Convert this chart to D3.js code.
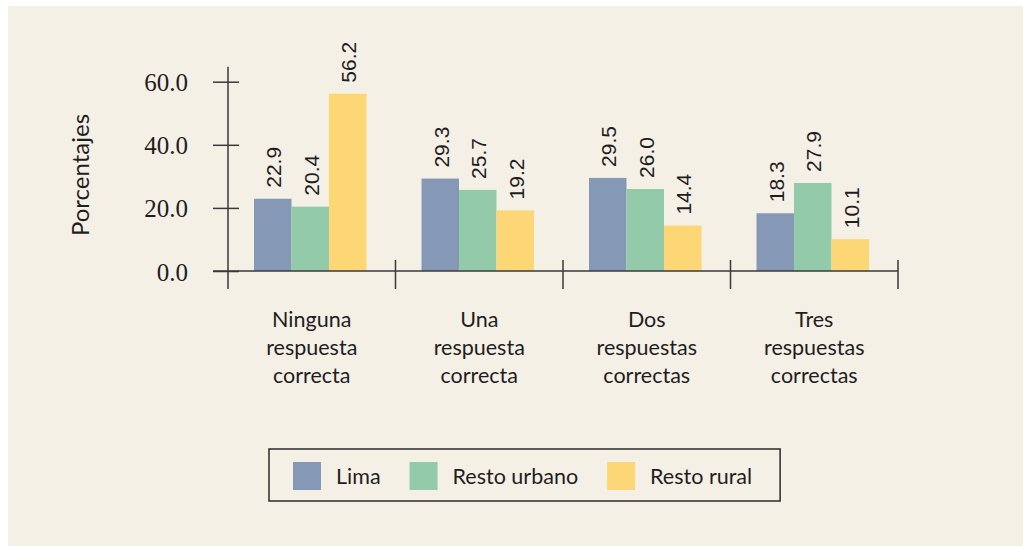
<!DOCTYPE html>
<html>
<head>
<meta charset="utf-8">
<style>
  body { margin: 0; background: #fff; }
  text { fill: #1e1e1e; }
  .cat, .legend text { font-family: Lato, "Open Sans", sans-serif; font-size: 21.5px; }
  .ytitle { font-family: Lato, "Open Sans", sans-serif; font-size: 24px; }
  .ytick text { font-family: "Liberation Serif", serif; font-size: 25px; }
  .val { font-family: "Liberation Sans", Arial, sans-serif; font-size: 21px; }
  .axisline { stroke: #3a3a3a; stroke-width: 1.5; }
</style>
</head>
<body>
<svg width="1023" height="546"></svg>
<script src="https://cdn.jsdelivr.net/npm/d3@7/dist/d3.min.js"></script>
<script>

var categories = [
  ["Ninguna", "respuesta", "correcta"],
  ["Una", "respuesta", "correcta"],
  ["Dos", "respuestas", "correctas"],
  ["Tres", "respuestas", "correctas"]
];
var series = ["Lima", "Resto urbano", "Resto rural"];
var colors = ["#8599b7", "#93cbaa", "#fdd776"];
var lima = [22.9, 29.3, 29.5, 18.3];
var restoUrbano = [20.4, 25.7, 26.0, 27.9];
var restoRural = [56.2, 19.2, 14.4, 10.1];
var yTicks = [0, 20, 40, 60];

var values = [lima, restoUrbano, restoRural];
var data = categories.map(function(c, i) {
  return { key: i, label: c, vals: values.map(function(v, j) { return { s: series[j], v: v[i] }; }) };
});

var svg = d3.select("svg");

svg.append("rect")
  .attr("x", 8).attr("y", 6)
  .attr("width", 1023 - 8).attr("height", 546 - 6)
  .attr("fill", "#f5f0e6");

var x0 = d3.scaleBand().domain(d3.range(categories.length)).range([228, 898]).padding(0);
var x1 = d3.scaleBand().domain(series).range([26, 26 + 112.5]).padding(0);
var y = d3.scaleLinear().domain([0, 60]).range([271, 81.7]);
var color = d3.scaleOrdinal().domain(series).range(colors);

// bars
var groups = svg.selectAll(".grp")
  .data(data)
  .join("g")
  .attr("class", "grp")
  .attr("transform", function(d) { return "translate(" + x0(d.key) + ",0)"; });

groups.selectAll("rect")
  .data(function(d) { return d.vals; })
  .join("rect")
  .attr("x", function(d) { return x1(d.s); })
  .attr("y", function(d) { return y(d.v); })
  .attr("width", x1.bandwidth())
  .attr("height", function(d) { return y(0) - y(d.v); })
  .attr("fill", function(d) { return color(d.s); });

groups.selectAll(".val")
  .data(function(d) { return d.vals; })
  .join("text")
  .attr("class", "val")
  .attr("transform", function(d) {
    return "translate(" + (x1(d.s) + x1.bandwidth() / 2 + 1) + "," + (y(d.v) - 11) + ") rotate(-90)";
  })
  .attr("dy", "0.36em")
  .text(function(d) { return d3.format(".1f")(d.v); });

// y axis
var yAxis = svg.append("g")
  .attr("class", "ytick")
  .attr("transform", "translate(" + x0.range()[0] + ",0)")
  .call(d3.axisLeft(y).tickValues(yTicks).tickFormat(d3.format(".1f")).tickSize(15).tickPadding(25));
yAxis.select(".domain").remove();
yAxis.selectAll(".tick line").attr("x2", -15).attr("x1", 11).attr("class", "axisline");
yAxis.selectAll(".tick text").attr("dy", "0.36em");

svg.append("line").attr("class", "axisline")
  .attr("x1", x0.range()[0]).attr("x2", x0.range()[0])
  .attr("y1", y(60) - 15).attr("y2", y(0) + 18);

// x axis
svg.append("line").attr("class", "axisline")
  .attr("x1", x0.range()[0] - 15).attr("x2", x0.range()[1])
  .attr("y1", y(0)).attr("y2", y(0));

var bounds = d3.range(categories.length + 1).map(function(i) { return x0.range()[0] + i * x0.step(); });
svg.selectAll(".xtick")
  .data(bounds.slice(1))
  .join("line")
  .attr("class", "axisline")
  .attr("x1", function(d) { return d; }).attr("x2", function(d) { return d; })
  .attr("y1", y(0) - 11).attr("y2", y(0) + 18);

// category labels
var cats = svg.selectAll(".cat")
  .data(data)
  .join("text")
  .attr("class", "cat")
  .attr("text-anchor", "middle")
  .attr("x", function(d) { return x0(d.key) + x0.bandwidth() / 2; })
  .attr("y", 327);
cats.selectAll("tspan")
  .data(function(d) { return d.label; })
  .join("tspan")
  .attr("x", function() { return d3.select(this.parentNode).attr("x"); })
  .attr("dy", function(d, i) { return i === 0 ? 0 : 28; })
  .text(function(d) { return d; });

// y title
svg.append("text")
  .attr("class", "ytitle")
  .attr("text-anchor", "middle")
  .attr("transform", "translate(89,175) rotate(-90)")
  .text("Porcentajes");

// legend
var legend = svg.append("g").attr("class", "legend");
var box = legend.append("rect")
  .attr("fill", "none").attr("stroke", "#2a2a2a").attr("stroke-width", 1.5);
var lx = 269 + 24;
series.forEach(function(s) {
  legend.append("rect")
    .attr("x", lx).attr("y", 462)
    .attr("width", 28).attr("height", 28)
    .attr("fill", color(s));
  var t = legend.append("text")
    .attr("x", lx + 43).attr("y", 476).attr("dy", "0.36em")
    .text(s);
  lx += 43 + t.node().getComputedTextLength() + 29;
});
box.attr("x", 269).attr("y", 449)
  .attr("width", lx - 29 + 28 - 269).attr("height", 52);

</script>
</body>
</html>
